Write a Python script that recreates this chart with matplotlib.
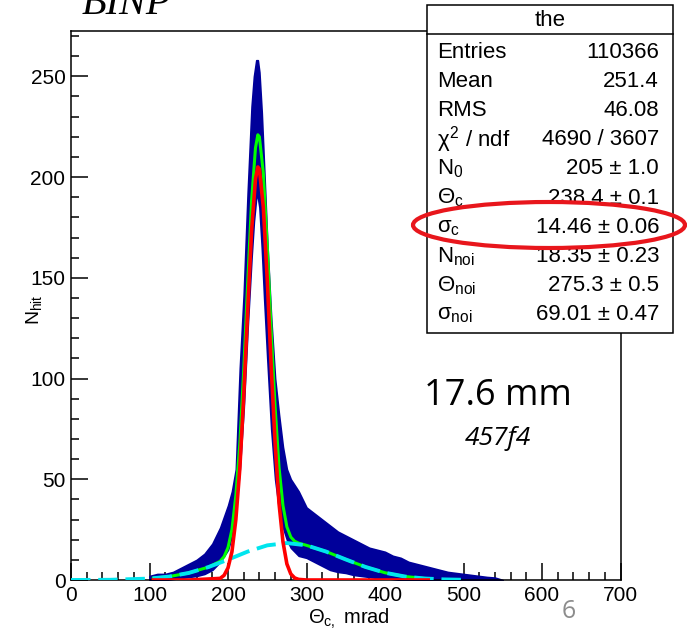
import matplotlib
matplotlib.use("Agg")
import matplotlib.pyplot as plt
from matplotlib.patches import Rectangle, Ellipse
from matplotlib.lines import Line2D
from matplotlib.ticker import MultipleLocator

plt.rcParams['font.family'] = ['Liberation Sans', 'DejaVu Sans']
plt.rcParams['mathtext.fontset'] = 'custom'
plt.rcParams['mathtext.rm'] = 'Liberation Sans'
plt.rcParams['mathtext.it'] = 'Liberation Sans'
plt.rcParams['mathtext.bf'] = 'Liberation Sans:bold'

# histogram envelope (min / max of the fine bins), mrad -> counts
hist_x = [100, 110, 120, 130, 140, 150, 160, 170, 180, 190,
          200, 205, 210, 215, 220, 225, 230,
          233, 236, 238, 240, 243, 246, 250,
          255, 260, 265, 270, 275, 280, 285, 290,
          300, 310, 320, 330, 340, 350, 360, 370, 380, 390, 400, 410, 420,
          430, 440, 450, 460, 470, 480, 490, 500, 510, 520, 530, 540, 550]
hist_hi = [2, 3, 3, 4, 6, 8, 10, 13, 18, 26,
           37, 44, 55, 105, 142, 192, 235,
           250, 258, 258, 252, 232, 205, 168,
           130, 100, 82, 66, 55, 50, 47, 44,
           36, 33, 30, 27, 24, 22, 20, 18, 16, 15, 14, 12, 11,
           9, 8, 7, 6, 5, 4, 3.5, 3, 2.5, 2, 1.5, 1.2, 0]
hist_lo = [0, 0, 0, 0.5, 1, 1.5, 2, 3, 5, 9,
           15, 22, 35, 55, 85, 125, 160,
           178, 190, 190, 185, 165, 140, 110,
           75, 50, 35, 26, 20, 16, 14, 12,
           11, 9, 7, 5, 4, 3.5, 2.5, 2, 1.5, 1, 1, 0.5, 0,
           0, 0, 0, 0, 0, 0, 0, 0, 0, 0, 0, 0, 0]

# total fit (green)
total_x = [105, 125, 150, 175, 190, 195, 200, 205, 210, 215, 220, 225, 230, 235,
           238, 240, 245, 250, 255, 260, 265, 270, 275, 280, 285, 290,
           300, 325, 350, 375, 400, 425, 455]
total_y = [0.9, 1.7, 3.5, 6.4, 9.3, 11.6, 16.1, 25, 42, 67.5, 104, 147, 188, 214.5,
           221, 220, 202, 166, 124, 86, 56, 37, 26.4, 21.3, 19.2, 18.3,
           17.2, 14.1, 10.2, 6.5, 3.6, 1.75, 0.6]

# signal gaussian (red)
sig_x = [105, 150, 190, 195, 200, 205, 210, 215, 220, 225, 230, 235, 238, 240,
         245, 250, 255, 260, 265, 270, 275, 280, 285, 290, 300, 455]
sig_y = [0, 0, 0.8, 2.3, 6, 14, 30, 55, 91, 133, 173, 199, 205, 204,
         185, 149, 106, 68, 38, 19, 8, 3, 1, 0.3, 0, 0]

# noise gaussian (cyan dashed)
noi_x = [0, 50, 100, 125, 150, 175, 200, 225, 250, 275, 300, 325, 350, 375,
         400, 425, 450, 475, 500]
noi_y = [0, 0.1, 0.7, 1.7, 3.5, 6.4, 10.1, 14.1, 17.2, 18.35, 17.2, 14.1, 10.2, 6.5,
         3.6, 1.75, 0.75, 0.3, 0.1]

stat_names = ['Entries', 'Mean', 'RMS', r'$\chi^{2}$ / ndf', r'$\mathrm{N}_{0}$',
              r'$\Theta_{c}$', r'$\sigma_{c}$', r'$\mathrm{N}_{noi}$',
              r'$\Theta_{noi}$', r'$\sigma_{noi}$']
stat_values = ['110366', '251.4', '46.08', '4690 / 3607', '205 ± 1.0',
               '238.4 ± 0.1', '14.46 ± 0.06', '18.35 ± 0.23', '275.3 ± 0.5',
               '69.01 ± 0.47']

W, H = 687, 633
fig = plt.figure(figsize=(6.87, 6.33), dpi=100)


def fx(x):
    return x / W


def fy(y):
    return 1 - y / H


ax = fig.add_axes([fx(71), fy(580), (620.5 - 71) / W, (580 - 31) / H])
navy = '#00009a'
ax.fill_between(hist_x, hist_lo, hist_hi, color=navy, lw=1.2, zorder=2)
ax.plot(total_x, total_y, color='#00ff00', lw=2.2, zorder=3)
ax.plot(noi_x, noi_y, color='#00e5ee', lw=2.8, ls=(0, (5, 2)), zorder=4)
ax.plot(sig_x, sig_y, color='#ff0000', lw=2.6, zorder=5)

ax.set_xlim(0, 700)
ax.set_ylim(0, 272.5)
ax.xaxis.set_major_locator(MultipleLocator(100))
ax.xaxis.set_minor_locator(MultipleLocator(20))
ax.yaxis.set_major_locator(MultipleLocator(50))
ax.yaxis.set_minor_locator(MultipleLocator(10))
ax.tick_params(which='both', direction='in', top=False, right=False,
               width=1.1, labelsize=15)
ax.tick_params(which='major', length=12, pad=4)
ax.tick_params(which='minor', length=6)
for sp in ax.spines.values():
    sp.set_linewidth(1.1)

ax.set_xlabel(r'$\Theta_{c,}$ mrad', fontsize=14.5)
ax.xaxis.set_label_coords(0.505, -0.048)
ax.set_ylabel(r'$\mathrm{N}_{hit}$', fontsize=14)
ax.yaxis.set_label_coords(-0.05, 0.493)

# stats box
fig.add_artist(Rectangle((fx(427), fy(333)), (673 - 427) / W, (333 - 5) / H,
                         transform=fig.transFigure, facecolor='white',
                         edgecolor='black', lw=1.1, zorder=5))
fig.add_artist(Line2D([fx(427), fx(673)], [fy(34), fy(34)],
                      transform=fig.transFigure, color='black', lw=1.1, zorder=6))
fig.text(fx(550), fy(20), 'the', ha='center', va='center', fontsize=16, zorder=7)
for i, (nm, val) in enumerate(zip(stat_names, stat_values)):
    y = 52 + i * 29.2
    fig.text(fx(437), fy(y), nm, ha='left', va='center', fontsize=16, zorder=7)
    fig.text(fx(659), fy(y), val, ha='right', va='center', fontsize=16, zorder=7)

fig.add_artist(Ellipse((fx(549), fy(225)), 272 / W, 46 / H,
                       transform=fig.transFigure, fill=False,
                       edgecolor='#e8161c', lw=3, zorder=8))

# slide annotations
fig.text(fx(82), fy(14), 'BINP', family='Liberation Serif', style='italic',
         fontsize=29, ha='left', va='baseline')
fig.text(fx(498), fy(405), '17.6 mm', family='Open Sans', fontsize=26,
         ha='center', va='baseline')
fig.text(fx(498), fy(445), '457f4', family='Open Sans', style='italic',
         fontsize=19, ha='center', va='baseline')
fig.text(fx(569), fy(618), '6', family='Open Sans', fontsize=18,
         color='#8c8c8c', ha='center', va='baseline')

fig.savefig('out.png', dpi=100)
